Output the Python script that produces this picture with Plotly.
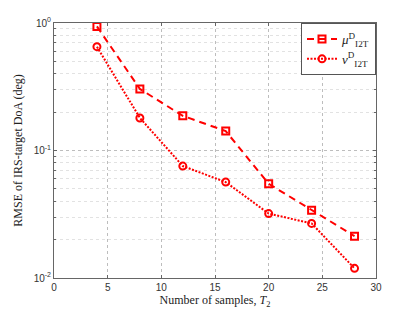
import plotly.graph_objects as go

samples = [4, 8, 12, 16, 20, 24, 28]
mu_rmse = [0.94, 0.304, 0.187, 0.142, 0.0548, 0.034, 0.0213]
nu_rmse = [0.652, 0.18, 0.0755, 0.0565, 0.032, 0.0268, 0.0119]
y_tickvals = [0.01, 0.1, 1]
y_ticktext = ["10<sup>-2</sup>", "10<sup>-1</sup>", "10<sup>0</sup>"]
y_minorvals = [m * d for d in (0.01, 0.1) for m in range(2, 10)]
x_tickvals = [0, 5, 10, 15, 20, 25, 30]

red = "#ff0000"
serif = "Liberation Serif, DejaVu Serif, serif"
sans = "Liberation Sans, Arial, sans-serif"

fig = go.Figure()
fig.add_trace(go.Scatter(
    x=samples, y=mu_rmse, mode="lines+markers",
    name="<i>μ</i><sup>D</sup><sub>I2T</sub>",
    line=dict(color=red, width=2, dash="7px,5px"),
    marker=dict(symbol="square-open", size=7, color=red, line=dict(width=2, color=red)),
))
fig.add_trace(go.Scatter(
    x=samples, y=nu_rmse, mode="lines+markers",
    name="<i>ν</i><sup>D</sup><sub>I2T</sub>",
    line=dict(color=red, width=2, dash="2px,1.5px"),
    marker=dict(symbol="circle-open", size=7, color=red, line=dict(width=2, color=red)),
))

axis_col = "#666666"
grid_col = "#bdbdbd"
fig.update_xaxes(
    range=[0, 30], tickvals=x_tickvals,
    showline=True, linecolor=axis_col, linewidth=1, mirror="ticks",
    ticks="inside", ticklen=3, tickcolor=axis_col,
    showgrid=True, gridcolor=grid_col, griddash="dot", gridwidth=1,
    zeroline=False,
    tickfont=dict(family=sans, size=10, color="#333333"),
    title=dict(text="Number of samples, <i>T</i><sub>2</sub>",
               font=dict(family=serif, size=12, color="#222222"), standoff=2),
)
fig.update_yaxes(
    type="log", range=[-2, 0], tickvals=y_tickvals, ticktext=y_ticktext,
    showline=True, linecolor=axis_col, linewidth=1, mirror="ticks",
    ticks="inside", ticklen=3, tickcolor=axis_col,
    showgrid=True, gridcolor=grid_col, griddash="dot", gridwidth=1,
    minor=dict(tickvals=y_minorvals, ticks="inside", ticklen=2, tickcolor=axis_col,
               showgrid=True, gridcolor="#e2e2e2", griddash="dot", gridwidth=1),
    zeroline=False,
    tickfont=dict(family=sans, size=10, color="#333333"),
    title=dict(text="RMSE of IRS-target DoA (deg)",
               font=dict(family=serif, size=12, color="#222222"), standoff=8),
)

fig.update_layout(
    width=415, height=312,
    margin=dict(l=54, r=39, t=23, b=34, autoexpand=False),
    paper_bgcolor="white", plot_bgcolor="white",
    showlegend=True,
    legend=dict(x=1, y=1, xanchor="right", yanchor="top",
                bgcolor="white", bordercolor="#555555", borderwidth=1,
                font=dict(family=serif, size=13, color="#222222"),
                itemwidth=30, tracegroupgap=0),
)

fig.write_html(
    "out.html",
    config={"displayModeBar": False},
    post_script="document.body.style.margin='0';document.body.style.overflow='hidden';",
)
